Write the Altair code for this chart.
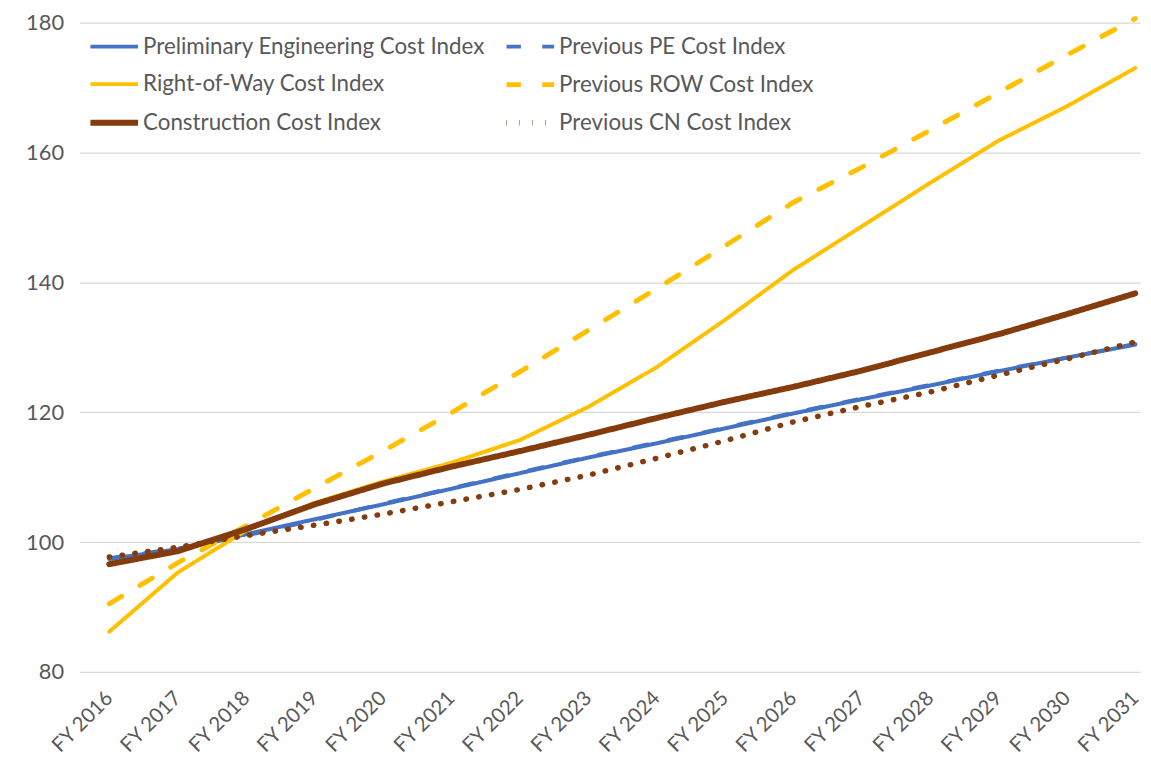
import altair as alt
import pandas as pd

years = list(range(2016, 2032))

# series in drawing order (as in the source workbook)
series_names = [
    "Preliminary Engineering Cost Index",
    "Previous PE Cost Index",
    "Right-of-Way Cost Index",
    "Previous ROW Cost Index",
    "Construction Cost Index",
    "Previous CN Cost Index",
]
# legend order (legend fills column by column)
legend_order = [
    "Preliminary Engineering Cost Index",
    "Right-of-Way Cost Index",
    "Construction Cost Index",
    "Previous PE Cost Index",
    "Previous ROW Cost Index",
    "Previous CN Cost Index",
]

pe = [97.4, 98.9, 101.2, 103.5, 105.8, 108.2, 110.6, 113.0, 115.2, 117.5, 119.8, 122.0, 124.1, 126.3, 128.4, 130.4]
prev_pe = [97.5, 99.0, 101.0, 103.4, 105.9, 108.3, 110.7, 113.1, 115.3, 117.6, 119.9, 122.1, 124.2, 126.4, 128.4, 130.5]
row = [86.2, 95.3, 101.8, 106.0, 109.3, 112.2, 115.7, 120.8, 126.9, 134.2, 141.9, 148.6, 155.3, 161.8, 167.1, 173.0]
prev_row = [90.5, 96.8, 102.5, 108.3, 114.0, 119.9, 126.2, 132.6, 139.0, 145.6, 152.3, 157.7, 163.4, 169.2, 175.0, 180.6]
cn = [96.6, 98.6, 102.0, 105.8, 109.0, 111.6, 114.0, 116.5, 119.1, 121.6, 123.9, 126.4, 129.2, 132.0, 135.1, 138.3]
prev_cn = [97.7, 99.2, 101.0, 102.6, 104.3, 106.2, 108.1, 110.3, 112.9, 115.6, 118.5, 120.9, 123.1, 125.7, 128.2, 130.8]

y_ticks = [80, 100, 120, 140, 160, 180]

style = {
    "Preliminary Engineering Cost Index": ("#4472C4", [1, 0], 4.0),
    "Previous PE Cost Index": ("#4472C4", [14.5, 21.5], 4.0),
    "Right-of-Way Cost Index": ("#FFC000", [1, 0], 4.0),
    "Previous ROW Cost Index": ("#FFC000", [14.5, 21.5], 5.0),
    "Construction Cost Index": ("#843C0C", [1, 0], 6.0),
    "Previous CN Cost Index": ("#843C0C", [0.5, 12.5], 5.5),
}
colors = [style[s][0] for s in legend_order]
dashes = [style[s][1] for s in legend_order]
widths = [style[s][2] for s in legend_order]

rows = []
for name, vals in zip(series_names, [pe, prev_pe, row, prev_row, cn, prev_cn]):
    for i, (yr, v) in enumerate(zip(years, vals)):
        rows.append({"series": name, "year": yr, "value": v, "order": i})
df = pd.DataFrame(rows)

FONT = "Lato"
GREY = "#595959"

legend = alt.Legend(
    title=None, orient="none", legendX=8, legendY=-2, columns=2,
    symbolType="stroke", symbolSize=2300, labelFont=FONT, labelFontSize=22.5,
    labelColor=GREY, rowPadding=-10, columnPadding=10, labelOffset=2,
    padding=0, labelLimit=600,
)

chart = alt.Chart(df).mark_line(strokeCap="round", strokeJoin="round", clip=False).encode(
    x=alt.X("year:Q",
            scale=alt.Scale(domain=[2015.565, 2031.07], nice=False, zero=False),
            axis=alt.Axis(values=years, labelExpr="'FY ' + datum.value", labelAngle=-45,
                          labelAlign="right", labelBaseline="middle", grid=False, ticks=False,
                          domain=False, title=None, labelFont=FONT, labelFontSize=20.5,
                          labelColor=GREY, labelPadding=23, labelOffset=0, labelOverlap=False)),
    y=alt.Y("value:Q",
            scale=alt.Scale(domain=[80, 180], nice=False, zero=False),
            axis=alt.Axis(values=y_ticks, grid=True, gridColor="#d9d9d9", gridWidth=1.3,
                          domain=False, ticks=False, title=None, labelFont=FONT,
                          labelFontSize=22, labelColor=GREY, labelPadding=16)),
    color=alt.Color("series:N", scale=alt.Scale(domain=legend_order, range=colors), legend=legend),
    strokeDash=alt.StrokeDash("series:N", scale=alt.Scale(domain=legend_order, range=dashes), legend=legend),
    strokeWidth=alt.StrokeWidth("series:N", scale=alt.Scale(type="ordinal", domain=legend_order, range=widths), legend=legend),
    order="order:Q",
).properties(
    width=1068, height=654,
    autosize=alt.AutoSizeParams(type="none"),
    padding={"left": 72, "top": 12, "right": 3, "bottom": 86},
).configure_view(stroke=None)

chart.save("out.html", embed_options={"renderer": "svg", "actions": False})
